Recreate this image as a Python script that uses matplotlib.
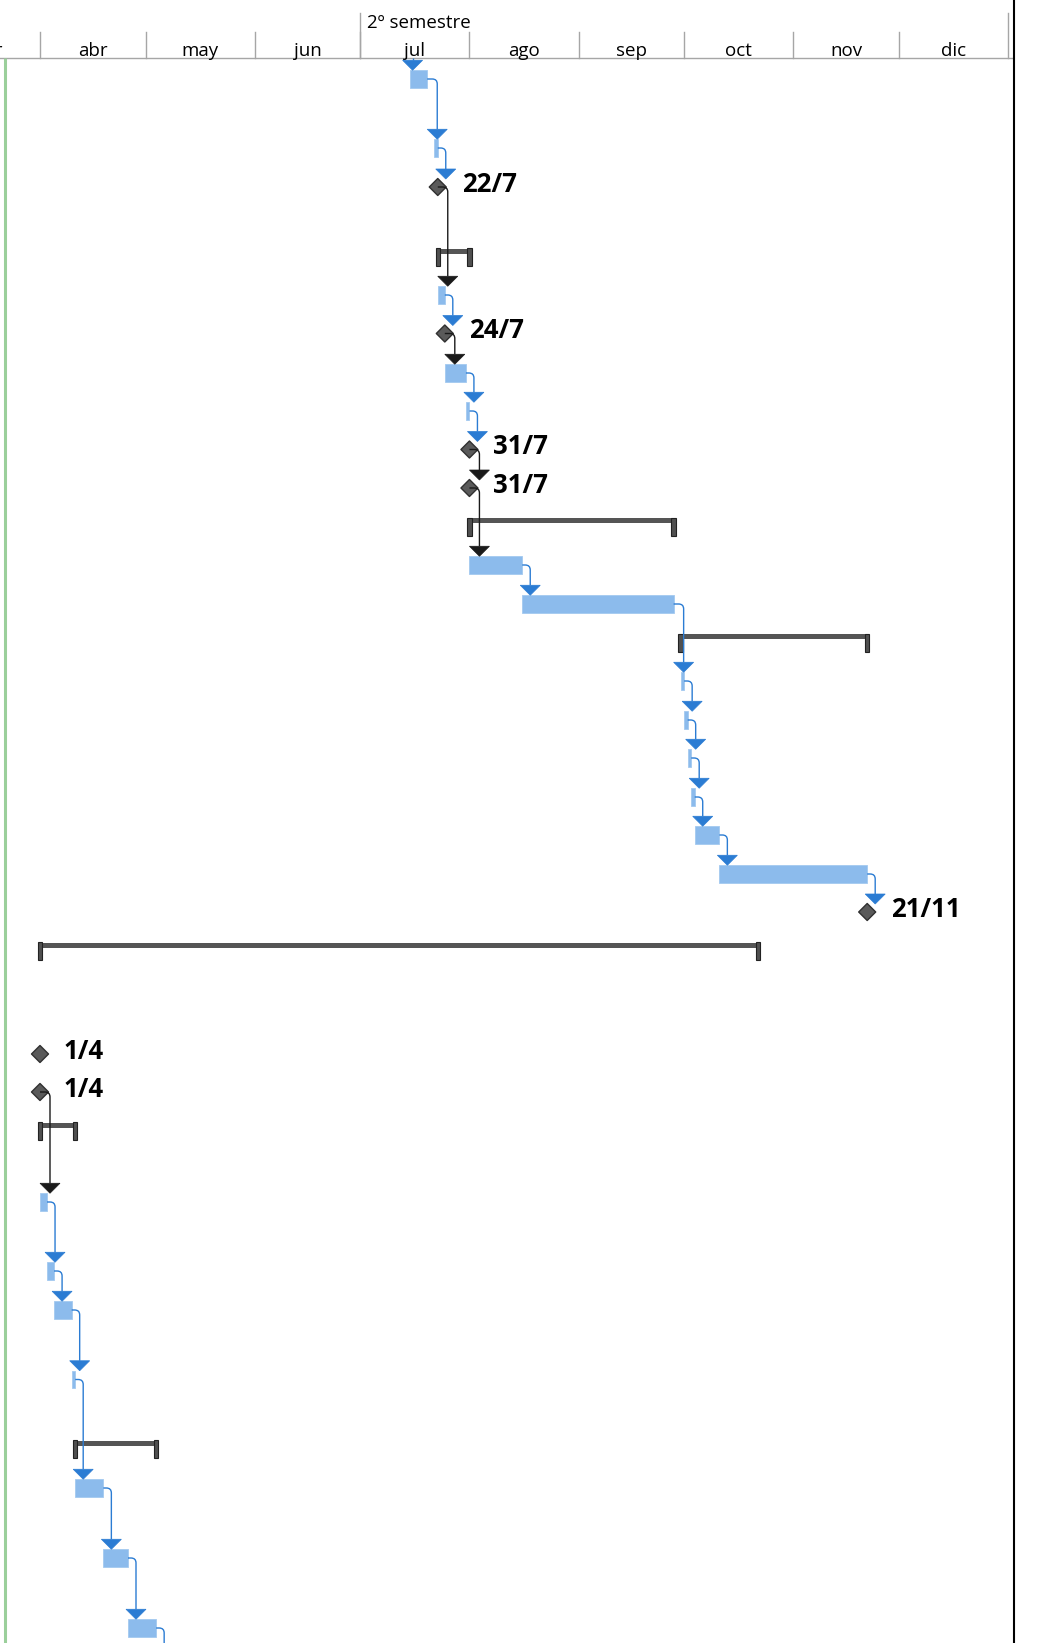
import numpy as np
import matplotlib.pyplot as plt
import matplotlib.dates as mdates
from matplotlib.patches import Polygon, Rectangle, PathPatch
from matplotlib.path import Path

plt.rcParams['font.family'] = ['Open Sans', 'DejaVu Sans']

# timescale
month_names = ['mar', 'abr', 'may', 'jun', 'jul', 'ago', 'sep', 'oct', 'nov', 'dic']
month_starts = ['2024-03-01', '2024-04-01', '2024-05-01', '2024-06-01', '2024-07-01',
                '2024-08-01', '2024-09-01', '2024-10-01', '2024-11-01', '2024-12-01',
                '2025-01-01']
semester_label = '2º semestre'
semester_bounds = ['2024-07-01', '2025-01-01']

# gantt rows (finish dates are exclusive)
kind = ['task', 'task', 'milestone', 'summary', 'task', 'milestone', 'task', 'task',
        'milestone', 'milestone', 'summary', 'task', 'task', 'summary', 'task', 'task',
        'task', 'task', 'task', 'task', 'milestone', 'summary', 'milestone', 'milestone',
        'summary', 'task', 'task', 'task', 'task', 'summary', 'task', 'task', 'task']
start = ['2024-07-15', '2024-07-22', '2024-07-23', '2024-07-23', '2024-07-23', '2024-07-25',
         '2024-07-25', '2024-07-31', '2024-08-01', '2024-08-01', '2024-08-01', '2024-08-01',
         '2024-08-16', '2024-09-30', '2024-09-30', '2024-10-01', '2024-10-02', '2024-10-03',
         '2024-10-04', '2024-10-11', '2024-11-22', '2024-04-01', '2024-04-01', '2024-04-01',
         '2024-04-01', '2024-04-01', '2024-04-03', '2024-04-05', '2024-04-10', '2024-04-11',
         '2024-04-11', '2024-04-19', '2024-04-26']
finish = ['2024-07-20', '2024-07-23', '2024-07-23', '2024-08-01', '2024-07-25', '2024-07-25',
          '2024-07-31', '2024-08-01', '2024-08-01', '2024-08-01', '2024-09-28', '2024-08-16',
          '2024-09-28', '2024-11-22', '2024-10-01', '2024-10-02', '2024-10-03', '2024-10-04',
          '2024-10-11', '2024-11-22', '2024-11-22', '2024-10-22', '2024-04-01', '2024-04-01',
          '2024-04-11', '2024-04-03', '2024-04-05', '2024-04-10', '2024-04-11', '2024-05-04',
          '2024-04-19', '2024-04-26', '2024-05-04']
row_y = [79, 148, 187, 257, 295, 333.5, 373, 411, 449.5, 488, 526.5, 565, 604, 642.5,
         681, 720, 758, 797, 835, 874, 912, 951, 1054, 1092, 1131, 1202, 1271, 1310,
         1379.5, 1449, 1488, 1558, 1628]
milestone_labels = {2: '22/7', 5: '24/7', 8: '31/7', 9: '31/7', 20: '21/11',
                    22: '1/4', 23: '1/4'}

links = [(0, 1), (1, 2), (2, 4), (4, 5), (5, 6), (6, 7), (7, 8), (8, 9), (9, 11),
         (11, 12), (12, 14), (14, 15), (15, 16), (16, 17), (17, 18), (18, 19), (19, 20),
         (23, 25), (25, 26), (26, 27), (27, 28), (28, 30), (30, 31), (31, 32)]
link_in = [0]      # predecessor above the view
link_out = [32]    # successor below the view

# colours
bar_color = '#8CBBEC'
link_blue = '#2B7CD3'
link_black = '#1A1A1A'
summary_color = '#555555'
diamond_color = '#5A5A5A'

W, H = 1039, 1643
ppd = 3.52  # pixels per day
x_apr = mdates.datestr2num('2024-04-01')
left = x_apr - 40 / ppd
right = left + W / ppd


def px(p):
    return left + p / ppd


s = mdates.datestr2num(start)
f = mdates.datestr2num(finish)

fig = plt.figure(figsize=(W / 100, H / 100), dpi=100)
ax = fig.add_axes([0, 0, 1, 1])
ax.set_xlim(left, right)
ax.set_ylim(H, 0)
ax.axis('off')

# header
ms = mdates.datestr2num(month_starts)
ax.plot([left, px(1013)], [58, 58], color='#A6A6A6', lw=1)
for m in ms[1:-1]:
    ax.plot([m, m], [31.5, 58], color='#A6A6A6', lw=1)
for b in mdates.datestr2num(semester_bounds):
    ax.plot([b, b], [13, 58], color='#A6A6A6', lw=1)
for name, a, b in zip(month_names, ms[:-1], ms[1:]):
    ax.text((a + b) / 2, 55.5, name, ha='center', va='baseline', fontsize=13.5,
            color='black', clip_on=True)
ax.text(mdates.datestr2num(semester_bounds[0]) + 6.5 / ppd, 28, semester_label,
        ha='left', va='baseline', fontsize=13.5, color='black')

# frame lines
ax.plot([px(4.5), px(4.5)], [58, H], color='#9BCF9B', lw=2.2, solid_capstyle='butt')
ax.plot([px(1013.5), px(1013.5)], [0, H], color='black', lw=1.5)


def end_x(i):
    return s[i] if kind[i] == 'milestone' else f[i]


def top_y(i):
    return row_y[i] - (8 if kind[i] == 'milestone' else 8.75)


def draw_link(x0, y0, xv, ytip, color):
    r = 5
    if y0 is None:
        verts = [(xv, 58), (xv, ytip - 10)]
        codes = [Path.MOVETO, Path.LINETO]
    else:
        verts = [(x0, y0), (xv - r / ppd, y0), (xv, y0), (xv, y0 + r), (xv, ytip - 10)]
        codes = [Path.MOVETO, Path.LINETO, Path.CURVE3, Path.CURVE3, Path.LINETO]
    ax.add_patch(PathPatch(Path(verts, codes), fill=False, edgecolor=color, lw=1.0,
                           zorder=4))
    if ytip < H:
        ax.add_patch(Polygon([(xv - 10 / ppd, ytip - 10), (xv + 10 / ppd, ytip - 10),
                              (xv, ytip)], closed=True, facecolor=color,
                             edgecolor=color, lw=0.5, zorder=5))


# summaries
for i, k in enumerate(kind):
    if k != 'summary':
        continue
    y = row_y[i]
    ax.add_patch(Rectangle((s[i], y - 8.5), f[i] - s[i], 5, facecolor=summary_color,
                           edgecolor='none', zorder=2))
    for c in (s[i], f[i]):
        ax.add_patch(Rectangle((c - 2.25 / ppd, y - 9), 4.5 / ppd, 18,
                               facecolor='#505050', edgecolor='#222222', lw=0.8,
                               zorder=3))

# tasks
tidx = [i for i, k in enumerate(kind) if k == 'task']
ax.barh([row_y[i] for i in tidx], [f[i] - s[i] for i in tidx],
        left=[s[i] for i in tidx], height=17.5, color=bar_color,
        edgecolor='#A3C9F0', linewidth=0.6, zorder=2)

# milestones
for i, k in enumerate(kind):
    if k != 'milestone':
        continue
    x, y = s[i], row_y[i]
    ax.add_patch(Polygon([(x - 8.5 / ppd, y), (x, y - 8.5), (x + 8.5 / ppd, y), (x, y + 8.5)],
                         closed=True, facecolor=diamond_color, edgecolor='#303030',
                         lw=1, joinstyle='round', zorder=3))
    ax.text(x + 24 / ppd, y + 5, milestone_labels[i], ha='left', va='baseline',
            fontsize=18.5, fontweight='bold', color='black')

# links
for p, q in links:
    off = 10 if kind[p] == 'milestone' else 8
    xv = max(end_x(p) + off / ppd, s[q] + 3 / ppd)
    color = link_black if kind[p] == 'milestone' else link_blue
    draw_link(end_x(p), row_y[p], xv, top_y(q), color)
for q in link_in:
    draw_link(None, None, s[q] + 3 / ppd, top_y(q), link_blue)
for p in link_out:
    draw_link(end_x(p), row_y[p], end_x(p) + 8 / ppd, H + 30, link_blue)

fig.savefig('out.png', dpi=100)
